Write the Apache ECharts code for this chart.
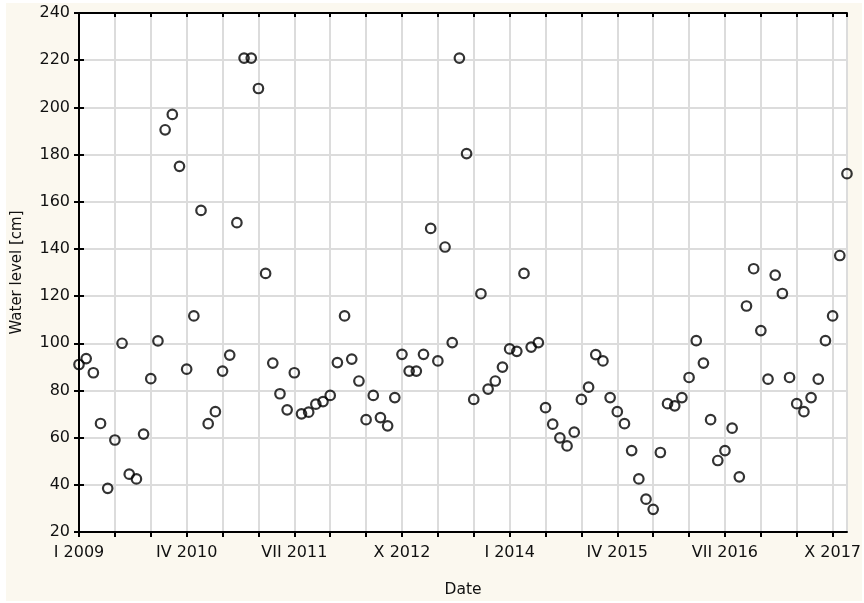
<!DOCTYPE html>
<html>
<head>
<meta charset="utf-8">
<script src="https://cdn.jsdelivr.net/npm/echarts@6/dist/echarts.min.js"></script>
<style>
  html, body { margin: 0; padding: 0; background: #fff; }
  #chart { width: 864px; height: 603px; }
</style>
</head>
<body>
<div id="chart"></div>
<script>
// monthly water level, Jan 2009 .. Dec 2017 (index = months since I 2009)
var startYear = 2009;
var monthNames = ['I', 'II', 'III', 'IV', 'V', 'VI', 'VII', 'VIII', 'IX', 'X', 'XI', 'XII'];
var waterLevel = [
    91, 93.5, 87.5, 66, 38.5, 59, 100, 44.5, 42.5, 61.5, 85, 101,          // 2009
    190.5, 197, 175, 89, 111.6, 156.3, 65.9, 71, 88.2, 95, 151.1, 220.9,   // 2010
    220.9, 208, 129.6, 91.6, 78.6, 71.8, 87.5, 70.1, 70.8, 74.2, 75.3, 77.9, // 2011
    91.8, 111.6, 93.3, 84, 67.6, 77.9, 68.5, 65, 77, 95.3, 88.2, 88.2,     // 2012
    95.3, 148.7, 92.5, 140.8, 100.3, 220.9, 180.4, 76.2, 121, 80.6, 84, 89.9, // 2013
    97.6, 96.6, 129.6, 98.4, 100.3, 72.7, 65.7, 59.9, 56.5, 62.3, 76.2, 81.4, // 2014
    95.2, 92.5, 77, 71, 65.9, 54.5, 42.5, 33.9, 29.6, 53.7, 74.4, 73.5,    // 2015
    77, 85.5, 101.1, 91.6, 67.6, 50.3, 54.5, 64, 43.4, 115.8, 131.6, 105.4, // 2016
    84.8, 128.9, 121.1, 85.5, 74.4, 71, 77, 84.8, 101.1, 111.6, 137.2, 171.9 // 2017
];

(function () {
    var myChart = echarts.init(document.getElementById('chart'));
    var font = 'DejaVu Sans';
    var textColor = '#111';

    var points = waterLevel.map(function (v, i) { return [i, v]; });

    function dateLabel(v) {
        if (v % 15 !== 0) return '';
        return monthNames[v % 12] + ' ' + (startYear + Math.floor(v / 12));
    }

    var option = {
        animation: false,
        backgroundColor: '#fff',
        graphic: [{
            type: 'rect',
            z: -10,
            shape: { x: 6, y: 3, width: 856, height: 598 },
            style: { fill: '#fbf8ef' }
        }],
        grid: {
            left: 79, right: 16, top: 13, bottom: 71,
            show: true, backgroundColor: '#fff', borderWidth: 0
        },
        xAxis: [{
            type: 'value',
            min: 0, max: 107, interval: 5,
            name: 'Date',
            nameLocation: 'middle',
            nameGap: 50,
            nameTextStyle: { fontFamily: font, fontSize: 15.5, color: textColor },
            axisLine: { lineStyle: { color: '#000', width: 2 } },
            axisTick: { inside: false, length: 5, lineStyle: { color: '#000', width: 2 } },
            axisLabel: {
                fontFamily: font, fontSize: 16, color: textColor, margin: 13,
                showMinLabel: true, showMaxLabel: false,
                formatter: dateLabel
            },
            splitLine: { show: true, lineStyle: { color: '#dcdcdc', width: 2 } }
        }, {
            type: 'value', position: 'top',
            min: 0, max: 107, interval: 5,
            axisLine: { lineStyle: { color: '#000', width: 2 } },
            axisTick: { inside: true, length: 4, lineStyle: { color: '#000', width: 2 } },
            axisLabel: { show: false },
            splitLine: { show: false }
        }],
        yAxis: [{
            type: 'value',
            min: 20, max: 240, interval: 20,
            name: 'Water level [cm]',
            nameLocation: 'middle',
            nameGap: 54,
            nameTextStyle: { fontFamily: font, fontSize: 15, color: textColor },
            axisLine: { show: true, lineStyle: { color: '#000', width: 2 } },
            axisTick: { show: true, inside: true, length: 5, lineStyle: { color: '#000', width: 2 } },
            axisLabel: { fontFamily: font, fontSize: 16, color: textColor, margin: 9 },
            splitLine: { show: true, lineStyle: { color: '#dcdcdc', width: 2 } }
        }, {
            type: 'value', position: 'right',
            min: 20, max: 240, interval: 20,
            axisLine: { show: true, lineStyle: { color: '#000', width: 2 } },
            axisTick: { show: true, inside: true, length: 5, lineStyle: { color: '#000', width: 2 } },
            axisLabel: { show: false },
            splitLine: { show: false }
        }],
        series: [{
            type: 'scatter',
            data: points,
            clip: true,
            symbol: 'circle',
            symbolSize: 9.5,
            itemStyle: { color: 'rgba(0,0,0,0)', borderColor: '#000', borderWidth: 2.2 },
            emphasis: { disabled: true }
        }]
    };

    myChart.setOption(option);
})();
</script>
</body>
</html>
